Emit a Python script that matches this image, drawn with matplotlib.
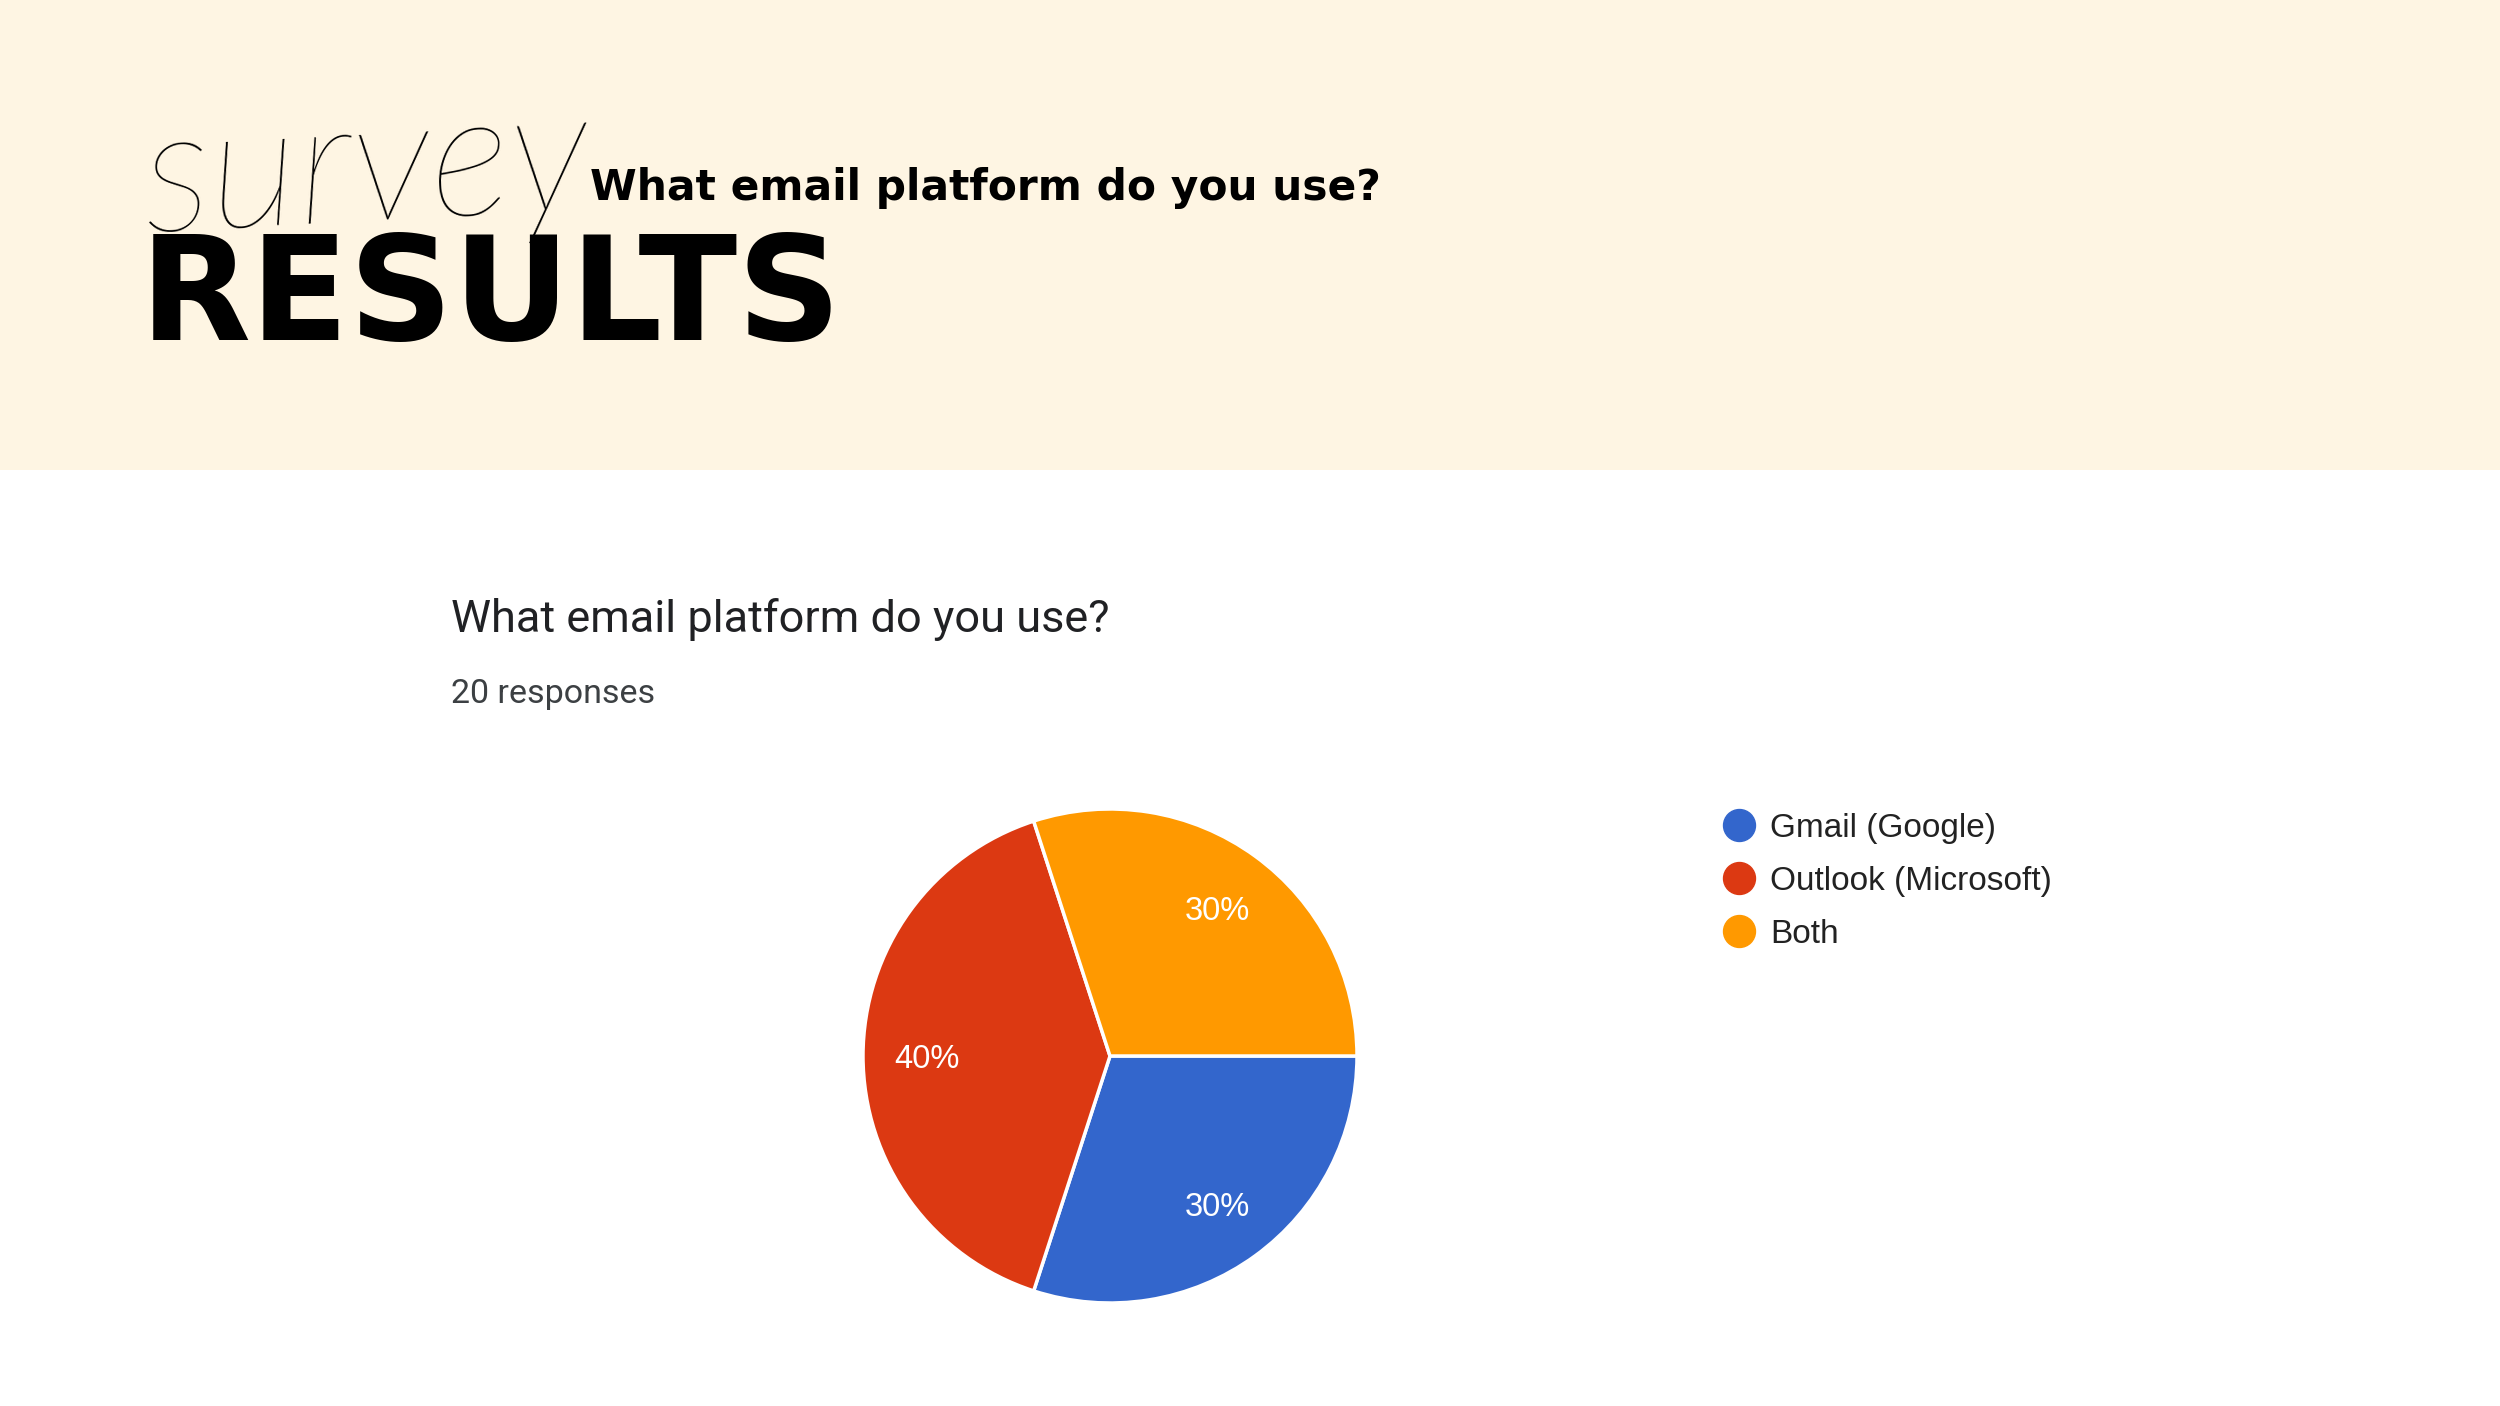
"""
    survey results: email platform pie
"""
import matplotlib.pyplot as plt
from matplotlib.patches import Rectangle
from matplotlib.lines import Line2D

W, H = 2500, 1406

labels = ["Gmail (Google)", "Outlook (Microsoft)", "Both"]
shares = [30, 40, 30]
colors = ["#3366CC", "#DC3912", "#FF9900"]
question = "What email platform do you use?"
responses = 20


def fx(x):
    return x / W


def fy(y):
    return 1 - y / H


fig = plt.figure(figsize=(25, 14.06), dpi=100)
fig.patch.set_facecolor("white")

# header band
fig.patches.append(Rectangle((0, fy(470)), 1, 470 / H, transform=fig.transFigure,
                             facecolor="#FEF5E3", edgecolor="none", zorder=0))

fig.text(fx(140), fy(232), "survey", fontsize=125, family="Lato", style="italic",
         weight="light", color="black", va="baseline", ha="left", rotation=3)
fig.text(fx(140), fy(340), "RESULTS", fontsize=104, family="DejaVu Sans", weight="bold",
         color="black", va="baseline", ha="left")
fig.text(fx(590), fy(200), question, fontsize=30.5, family="DejaVu Sans", weight="bold",
         color="black", va="baseline", ha="left")

# chart heading
fig.text(fx(451), fy(632), question, fontsize=32.5, family="Roboto",
         color="#202124", va="baseline", ha="left")
fig.text(fx(451), fy(703), "%d responses" % responses, fontsize=24.5, family="Roboto",
         color="#3c4043", va="baseline", ha="left")

# pie
cx, cy, r = 1110, 1056, 247
ax = fig.add_axes([fx(cx - r), fy(cy + r), 2 * r / W, 2 * r / H])
wedges, texts, autotexts = ax.pie(
    shares, colors=colors, startangle=0, counterclock=False,
    autopct="%1.0f%%", pctdistance=0.74,
    wedgeprops=dict(edgecolor="white", linewidth=2.5),
    textprops=dict(color="white", fontsize=23.5, family="Liberation Sans"))
for t in autotexts:
    x, y = t.get_position()
    t.set_position((x, y - 0.015))
ax.set_xlim(-1.0, 1.0)
ax.set_ylim(-1.0, 1.0)
ax.set_aspect("equal")
ax.axis("off")

handles = [Line2D([], [], marker="o", linestyle="none", markersize=23,
                  markerfacecolor=c, markeredgecolor=c) for c in colors]
fig.legend(handles, labels, loc="upper left", bbox_to_anchor=(fx(1722), fy(813)),
           frameon=False, prop=dict(family="Liberation Sans", size=24),
           labelcolor="#222222", handletextpad=0.45, labelspacing=0.66,
           handlelength=1.0, borderpad=0, borderaxespad=0)

plt.savefig("out.png", dpi=100)
